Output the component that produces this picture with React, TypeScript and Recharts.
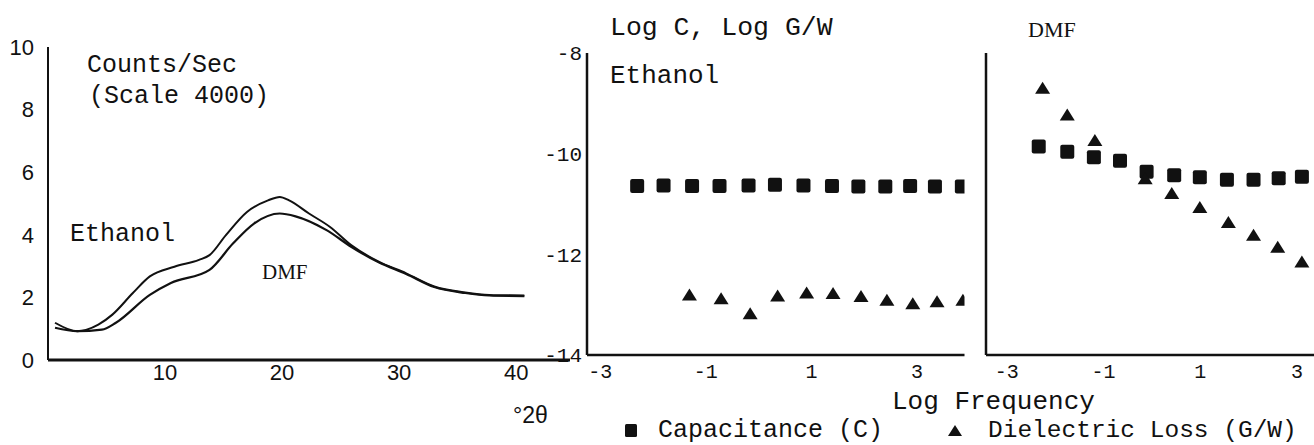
import React from "react";
import { Line, LineChart, Scatter, ScatterChart, XAxis, YAxis } from "recharts";

// X-ray diffraction traces (left panel), counts/sec on a 4000 scale
const ethanolXrdX = [0.6, 2.5, 4.3, 5.5, 7.25, 8.7, 10.8, 12.9, 13.8, 15.2, 17.0, 18.8, 19.8, 20.6, 22.3, 24.1, 25.9, 28.25, 30.6, 33.0, 35.65, 37.7, 40.7];
const ethanolXrdY = [1.19, 0.92, 1.13, 1.45, 2.14, 2.67, 2.98, 3.2, 3.35, 3.99, 4.73, 5.1, 5.21, 5.1, 4.68, 4.25, 3.67, 3.14, 2.77, 2.35, 2.16, 2.08, 2.06];
const dmfXrdX = [0.6, 2.5, 4.6, 5.8, 8.7, 10.5, 13.8, 15.8, 17.6, 19.8, 21.15, 23.8, 25.9, 28.25, 30.6, 33.0, 35.65, 37.7, 40.7];
const dmfXrdY = [1.03, 0.92, 0.97, 1.19, 2.08, 2.46, 2.88, 3.72, 4.36, 4.68, 4.59, 4.15, 3.62, 3.12, 2.75, 2.33, 2.14, 2.06, 2.04];

const xrdXTicks = [10, 20, 30, 40];
const xrdYTicks = [0, 2, 4, 6, 8, 10];

// dielectric data, log frequency vs log C / log G/W
const ethanolCapX = [-2.3, -1.8, -1.26, -0.74, -0.19, 0.31, 0.85, 1.39, 1.89, 2.4, 2.87, 3.34, 3.85];
const ethanolCapY = [-10.64, -10.63, -10.64, -10.64, -10.63, -10.62, -10.63, -10.64, -10.65, -10.65, -10.64, -10.65, -10.65];
const ethanolLossX = [-1.31, -0.71, -0.16, 0.36, 0.91, 1.41, 1.94, 2.43, 2.92, 3.38, 3.87];
const ethanolLossY = [-12.81, -12.88, -13.18, -12.83, -12.77, -12.78, -12.84, -12.91, -12.98, -12.94, -12.91];

const dmfCapX = [-2.34, -1.75, -1.2, -0.66, -0.11, 0.46, 0.99, 1.55, 2.1, 2.62, 3.1];
const dmfCapY = [-9.86, -9.96, -10.07, -10.14, -10.36, -10.43, -10.47, -10.52, -10.52, -10.49, -10.46];
const dmfLossX = [-2.26, -1.75, -1.18, -0.14, 0.41, 0.99, 1.58, 2.1, 2.6, 3.1];
const dmfLossY = [-8.7, -9.23, -9.74, -10.5, -10.79, -11.07, -11.37, -11.62, -11.86, -12.15];

const logYTicks = [-14, -12, -10, -8];
const logXTicks = [-3, -1, 1, 3];

const zip = (xs: number[], ys: number[]) => xs.map((x, i) => ({ x, y: ys[i] }));

const MONO = "'Liberation Mono', 'DejaVu Sans Mono', monospace";
const SANS = "'Liberation Sans', Arial, sans-serif";
const SERIF = "'Liberation Serif', 'DejaVu Serif', serif";
const INK = "#111";

const axisLine = { stroke: INK, strokeWidth: 2.5 };

function Square(props: any) {
  const { cx, cy } = props;
  if (cx == null || cy == null) return null;
  return <rect x={cx - 7} y={cy - 7} width={14} height={14} rx={2} fill={INK} />;
}

function Triangle(props: any) {
  const { cx, cy } = props;
  if (cx == null || cy == null) return null;
  return <polygon points={`${cx},${cy - 6.5} ${cx + 7.5},${cy + 5.5} ${cx - 7.5},${cy + 5.5}`} fill={INK} />;
}

function XrdChart() {
  return (
    <LineChart width={575} height={445} margin={{ top: 47, right: 5, left: 0, bottom: 45 }}>
      <XAxis
        type="number"
        dataKey="x"
        domain={[0, 44.6]}
        ticks={xrdXTicks}
        allowDataOverflow
        axisLine={{ stroke: INK, strokeWidth: 3 }}
        tickLine={false}
        tickSize={0}
        tickMargin={4}
        height={40}
        tick={{ fill: INK, fontSize: 22, fontFamily: SANS }}
      />
      <YAxis
        type="number"
        domain={[0, 10]}
        ticks={xrdYTicks}
        allowDataOverflow
        width={48}
        axisLine={{ stroke: INK, strokeWidth: 2 }}
        tickLine={false}
        tickSize={0}
        tickMargin={14}
        tick={{ fill: INK, fontSize: 22, fontFamily: SANS }}
      />
      <Line data={zip(ethanolXrdX, ethanolXrdY)} dataKey="y" type="monotone" stroke={INK} strokeWidth={2} dot={false} isAnimationActive={false} />
      <Line data={zip(dmfXrdX, dmfXrdY)} dataKey="y" type="monotone" stroke={INK} strokeWidth={2.2} dot={false} isAnimationActive={false} />
    </LineChart>
  );
}

function DielectricChart({
  width,
  yAxisWidth,
  rightMargin,
  domain,
  cap,
  loss,
  showYTicks,
}: {
  width: number;
  yAxisWidth: number;
  rightMargin: number;
  domain: [number, number];
  cap: { x: number; y: number }[];
  loss: { x: number; y: number }[];
  showYTicks: boolean;
}) {
  return (
    <ScatterChart width={width} height={445} margin={{ top: 53, right: rightMargin, left: 0, bottom: 50 }}>
      <XAxis
        type="number"
        dataKey="x"
        domain={domain}
        ticks={logXTicks}
        allowDataOverflow
        axisLine={axisLine}
        tickLine={false}
        tickSize={0}
        tickMargin={9}
        height={40}
        tick={{ fill: INK, fontSize: 20, fontFamily: MONO }}
      />
      <YAxis
        type="number"
        dataKey="y"
        domain={[-14, -8]}
        ticks={logYTicks}
        allowDataOverflow
        width={yAxisWidth}
        axisLine={axisLine}
        tickLine={false}
        tickSize={0}
        tickMargin={5}
        tick={showYTicks ? { fill: INK, fontSize: 21, fontFamily: MONO } : false}
      />
      <Scatter data={cap} shape={Square} isAnimationActive={false} />
      <Scatter data={loss} shape={Triangle} isAnimationActive={false} />
    </ScatterChart>
  );
}

function Annotations() {
  return (
    <svg width={1314} height={445} style={{ position: "absolute", left: 0, top: 0, pointerEvents: "none" }}>
      <g fill={INK} fontFamily={MONO} fontSize={25}>
        <text x={87} y={72}>Counts/Sec</text>
        <text x={89} y={103}>(Scale 4000)</text>
        <text x={70} y={241}>Ethanol</text>
        <text x={610} y={35} fontSize={26.5}>Log C, Log G/W</text>
        <text x={610} y={83} fontSize={26}>Ethanol</text>
        <text x={892} y={409} fontSize={26}>Log Frequency</text>
        <text x={658} y={437} fontSize={25}>Capacitance (C)</text>
        <text x={988} y={437} fontSize={24.5}>Dielectric Loss (G/W)</text>
      </g>
      <text x={262} y={279} fill={INK} fontFamily={SERIF} fontSize={21}>DMF</text>
      <text x={1028} y={37} fill={INK} fontFamily={SERIF} fontSize={22}>DMF</text>
      <text x={513} y={423} fill={INK} fontFamily={SANS} fontSize={23}>°2θ</text>
      <rect x={625} y={424} width={12} height={13} rx={1.5} fill={INK} />
      <polygon points="955,425 962,436 948,436" fill={INK} />
    </svg>
  );
}

export default function App() {
  return (
    <div style={{ position: "absolute", left: 0, top: 0, width: 1314, height: 445, background: "#fff", overflow: "hidden" }}>
      <div style={{ position: "absolute", left: 0, top: 0 }}>
        <XrdChart />
      </div>
      <div style={{ position: "absolute", left: 490, top: 0 }}>
        <DielectricChart
          width={480}
          yAxisWidth={97}
          rightMargin={5.5}
          domain={[-3.25, 3.9]}
          cap={zip(ethanolCapX, ethanolCapY)}
          loss={zip(ethanolLossX, ethanolLossY)}
          showYTicks
        />
      </div>
      <div style={{ position: "absolute", left: 936, top: 0 }}>
        <DielectricChart
          width={378}
          yAxisWidth={50}
          rightMargin={0}
          domain={[-3.43, 3.35]}
          cap={zip(dmfCapX, dmfCapY)}
          loss={zip(dmfLossX, dmfLossY)}
          showYTicks={false}
        />
      </div>
      <Annotations />
    </div>
  );
}
